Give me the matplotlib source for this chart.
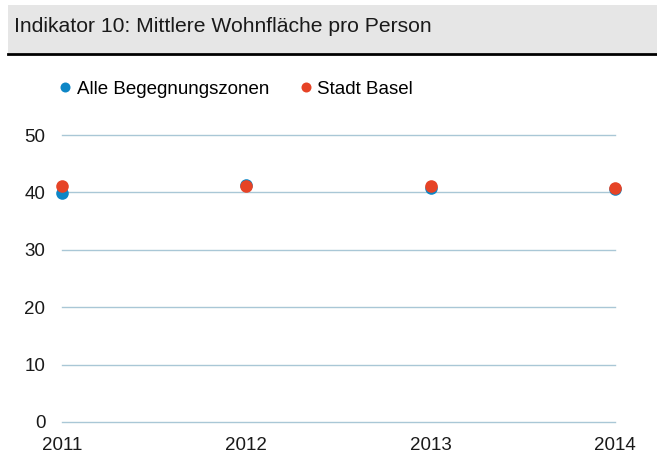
import matplotlib

matplotlib.use("Agg")
import matplotlib.pyplot as plt
from matplotlib.patches import Rectangle
from matplotlib.lines import Line2D

years = [2011, 2012, 2013, 2014]
begegnungszonen = [39.9, 41.3, 40.8, 40.65]
stadt_basel = [41.1, 41.2, 41.2, 40.75]
yticks = [0, 10, 20, 30, 40, 50]

title = "Indikator 10: Mittlere Wohnfläche pro Person"
series_names = ["Alle Begegnungszonen", "Stadt Basel"]
BLUE = "#0d86c6"
RED = "#e64326"
GRID = "#a9c7d6"

plt.rcParams["font.family"] = ["Liberation Sans", "DejaVu Sans"]

W, H = 657, 471
fig = plt.figure(figsize=(W / 100, H / 100), dpi=100)

# title band with black rule underneath
fig.patches.append(Rectangle((8 / W, 1 - 53 / H), 1 - 8 / W, 48 / H,
                             transform=fig.transFigure, facecolor="#e6e6e6",
                             edgecolor="none", zorder=0))
fig.add_artist(Line2D([8 / W, 1], [1 - 54 / H, 1 - 54 / H],
                      transform=fig.transFigure, color="black", lw=2.0))
fig.text(14 / W, 1 - 27 / H, title, fontsize=15.2, va="center", ha="left",
         color="#1a1a1a")

ax = fig.add_axes([62 / W, 49 / H, 553 / W, 287 / H])
ax.scatter(years, begegnungszonen, s=82, color=BLUE, zorder=3, clip_on=False,
           linewidths=0)
ax.scatter(years, stadt_basel, s=82, color=RED, zorder=4, clip_on=False,
           linewidths=0)

ax.set_xlim(years[0], years[-1])
ax.set_ylim(yticks[0], yticks[-1])
ax.set_xticks(years)
ax.set_yticks(yticks)
ax.tick_params(length=0, labelsize=13.5, colors="#1a1a1a")
ax.tick_params(axis="y", pad=12)
ax.tick_params(axis="x", pad=10.5)
for y in yticks:
    ax.axhline(y, color=GRID, lw=1.0, zorder=1, clip_on=False)
for s in ax.spines.values():
    s.set_visible(False)

handles = [Line2D([], [], ls="none", marker="o", ms=7.2, color=c, mew=0)
           for c in (BLUE, RED)]
fig.legend(handles, series_names, loc="center left",
           bbox_to_anchor=(56 / W, 1 - 89 / H), frameon=False, ncol=2,
           fontsize=13.5, handletextpad=0.1, columnspacing=1.45,
           handlelength=1.0, borderaxespad=0, borderpad=0)

fig.savefig("out.png", dpi=100)
